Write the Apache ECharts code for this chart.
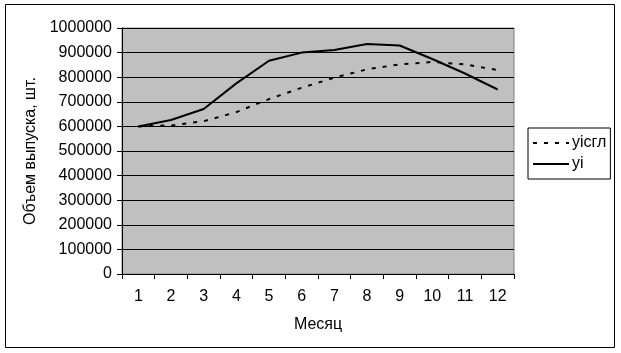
<!DOCTYPE html>
<html>
<head>
<meta charset="utf-8">
<script src="https://cdn.jsdelivr.net/npm/echarts@6/dist/echarts.min.js"></script>
<style>
  html, body { margin: 0; padding: 0; background: #fff; }
  #chart { width: 621px; height: 353px; }
</style>
</head>
<body>
<div id="chart"></div>
<script>
// месяцы
const months = ['1', '2', '3', '4', '5', '6', '7', '8', '9', '10', '11', '12']
// выровненные значения (пунктир)
const yiSgl = [600000, 604000, 621000, 658000, 711000, 757000, 798000, 832000, 852000, 862000, 852000, 829000]
// фактические значения
const yi = [600000, 626000, 671000, 775000, 867000, 900000, 911000, 935000, 929000, 874000, 815000, 750000]

const font = '"Liberation Sans", Arial, sans-serif'

const chart = echarts.init(document.getElementById('chart'))

chart.setOption({
  animation: false,
  backgroundColor: '#fff',
  textStyle: { fontFamily: font, color: '#000' },
  graphic: [{
    type: 'rect',
    shape: { x: 5.5, y: 4.5, width: 609, height: 343 },
    style: { fill: 'none', stroke: '#000', lineWidth: 1 },
    z: 0
  }],
  grid: {
    left: 122,
    right: 107,
    top: 28,
    bottom: 79,
    show: true,
    backgroundColor: '#c0c0c0',
    borderColor: '#808080',
    borderWidth: 1
  },
  legend: {
    orient: 'vertical',
    left: 528,
    top: 128,
    padding: [7, 4, 7, 4],
    itemWidth: 36,
    itemHeight: 14,
    itemGap: 5,
    borderColor: '#000',
    borderWidth: 1,
    itemStyle: { opacity: 0 },
    textStyle: { fontFamily: font, fontSize: 16, color: '#000', padding: [0, 0, 0, -2] },
    data: ['yiсгл', 'yi']
  },
  xAxis: {
    type: 'category',
    data: months,
    boundaryGap: true,
    name: 'Месяц',
    nameLocation: 'middle',
    nameGap: 43,
    nameTextStyle: { fontSize: 16, color: '#000', fontFamily: font },
    axisLine: { lineStyle: { color: '#000', width: 1 } },
    axisTick: { show: true, length: 5, inside: false, lineStyle: { color: '#000' } },
    axisLabel: { fontSize: 16, color: '#000', margin: 15, fontFamily: font },
    splitLine: { show: false }
  },
  yAxis: {
    type: 'value',
    min: 0,
    max: 1000000,
    interval: 100000,
    name: 'Объем выпуска, шт.',
    nameLocation: 'middle',
    nameRotate: 90,
    nameGap: 78,
    nameTextStyle: { fontSize: 16, color: '#000', fontFamily: font },
    axisLine: { show: true, lineStyle: { color: '#000', width: 1 } },
    axisTick: { show: true, length: 5, lineStyle: { color: '#000' } },
    axisLabel: { fontSize: 16, color: '#000', margin: 10, fontFamily: font, formatter: v => String(v) },
    splitLine: { show: true, lineStyle: { color: '#000', width: 1 } }
  },
  series: [
    {
      name: 'yiсгл',
      type: 'line',
      data: yiSgl,
      symbol: 'none',
      lineStyle: { color: '#000', width: 2, type: [4, 7] },
      itemStyle: { color: '#000' }
    },
    {
      name: 'yi',
      type: 'line',
      data: yi,
      symbol: 'none',
      lineStyle: { color: '#000', width: 2 },
      itemStyle: { color: '#000' }
    }
  ]
})
</script>
</body>
</html>
